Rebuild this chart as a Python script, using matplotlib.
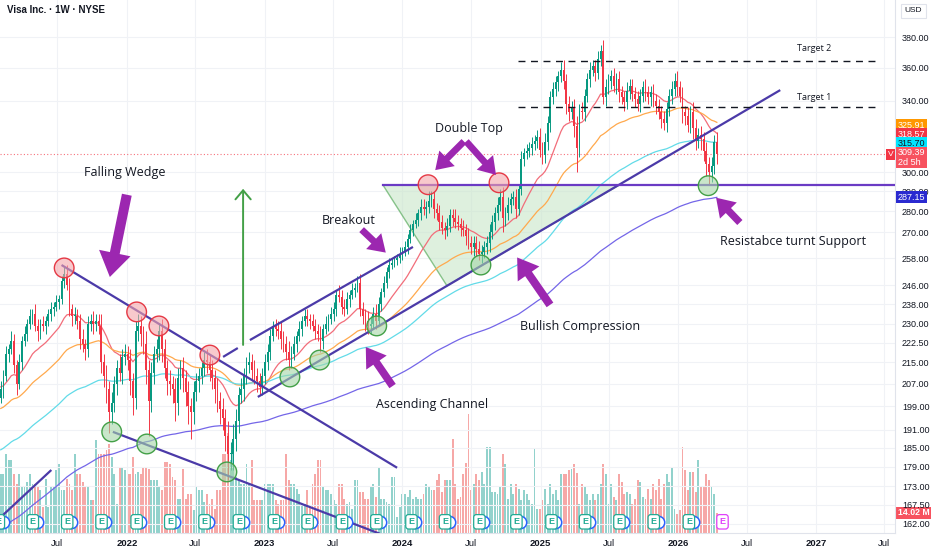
import numpy as np
import pandas as pd
import matplotlib
matplotlib.use("Agg")
import matplotlib.pyplot as plt
import matplotlib.dates as mdates
from matplotlib.patches import Polygon
from matplotlib.transforms import blended_transform_factory
from matplotlib.ticker import NullLocator

plt.rcParams['font.family'] = ['Liberation Sans', 'DejaVu Sans']
NOTE_FONT = ['Open Sans', 'DejaVu Sans']

# ---- weekly candles (Visa, 1W) ----
first_week = '2021-02-01'
first_open = 202.0
closes = [
    205, 210, 218, 220, 223, 214, 207, 215, 223, 226,
    230, 233, 234, 229, 227, 230, 229, 231, 234, 236,
    237, 239, 240, 248, 251, 246, 236, 233, 233, 231,
    224, 222, 220, 230, 231, 230, 231, 229, 215, 210,
    205, 197, 200, 207, 213, 211, 217, 218, 216, 208,
    202, 227, 229, 226, 222, 212, 201, 211, 218, 220,
    227, 220, 213, 208, 207, 205, 200, 209, 213, 209,
    204, 199, 197, 204, 208, 210, 213, 216, 215, 212,
    209, 205, 201, 198, 195, 189, 183, 183, 188, 194,
    203, 205, 210, 214, 215, 212, 210, 208, 206, 210,
    215, 219, 225, 229, 228, 227, 224, 222, 219, 216,
    218, 222, 225, 228, 231, 233, 232, 231, 229, 227,
    226, 223, 228, 230, 232, 234, 236, 242, 241, 237,
    236, 240, 242, 244, 245, 247, 236, 233, 231, 229,
    230, 234, 231, 238, 243, 247, 252, 255, 256, 257,
    258, 260, 261, 263, 267, 271, 274, 276, 279, 282,
    281, 282, 285, 286, 281, 279, 275, 272, 271, 273,
    278, 277, 275, 274, 272, 271, 268, 265, 263, 265,
    262, 260, 261, 263, 265, 270, 275, 279, 283, 287,
    277, 279, 283, 286, 287, 281, 291, 307, 310, 311,
    313, 315, 317, 319, 312, 309, 316, 327, 342, 347,
    351, 355, 359, 352, 338, 333, 336, 325, 313, 334,
    333, 343, 353, 359, 361, 357, 366, 371, 342, 348,
    352, 355, 349, 353, 345, 342, 339, 346, 349, 344,
    341, 338, 343, 348, 345, 342, 345, 340, 337, 333,
    329, 327, 335, 343, 347, 352, 348, 343, 333, 331,
    326, 333, 324, 317, 320, 318, 311, 304, 300, 303,
    316, 309.39,
]
wick_hi = [
    3, 2, 3, 2, 4, 3, 2, 3, 2, 3,  2, 3, 2, 4, 3, 2, 3, 2, 2, 3,
    2, 3, 2, 2, 3, 4, 3, 2, 4, 3,  3, 4, 2, 3, 3, 4, 3, 3, 5, 3,
    4, 3, 4, 3, 3, 5, 3, 4, 3, 4,  3, 4, 5, 4, 3, 5, 4, 4, 3, 4,
    3, 5, 4, 3, 4, 3, 4, 4, 3, 4,  3, 4, 3, 4, 3, 3, 2, 3, 4, 3,
    4, 3, 4, 3, 4, 3, 5, 4, 5, 4,  3, 4, 3, 3, 4, 3, 4, 3, 3, 3,
    3, 3, 3, 2, 3, 3, 4, 3, 3, 4,  3, 3, 2, 3, 2, 3, 3, 2, 3, 3,
    3, 3, 2, 3, 2, 3, 3, 2, 4, 3,  3, 3, 2, 3, 2, 3, 4, 3, 3, 4,
    3, 3, 4, 3, 2, 3, 2, 3, 2, 2,  2, 3, 2, 3, 2, 3, 2, 3, 2, 4,
    4, 3, 5, 4, 4, 3, 4, 3, 3, 4,  3, 3, 4, 3, 3, 4, 3, 4, 3, 3,
    3, 4, 3, 3, 3, 4, 3, 3, 4, 4,  5, 3, 4, 3, 3, 4, 3, 4, 3, 4,
    3, 4, 3, 4, 5, 4, 5, 4, 4, 4,  4, 3, 5, 6, 4, 5, 4, 5, 6, 4,
    5, 4, 4, 5, 4, 4, 5, 4, 7, 5,  4, 4, 5, 4, 5, 4, 4, 5, 4, 4,
    4, 5, 4, 4, 5, 4, 4, 5, 4, 4,  4, 5, 4, 4, 5, 5, 6, 4, 5, 4,
    5, 4, 6, 5, 4, 5, 4, 5, 4, 5,  4, 6,
]
wick_lo = [
    2, 3, 2, 3, 2, 3, 4, 2, 3, 2,  3, 2, 3, 2, 4, 3, 2, 3, 2, 3,
    3, 2, 3, 2, 3, 2, 3, 4, 3, 3,  4, 3, 4, 3, 3, 4, 3, 3, 4, 4,
    5, 7, 4, 3, 4, 3, 4, 3, 4, 5,  6, 4, 4, 5, 4, 5, 12, 4, 4, 3,
    4, 5, 4, 5, 4, 5, 6, 4, 4, 5,  5, 6, 9, 4, 3, 4, 3, 3, 4, 4,
    4, 5, 4, 5, 4, 5, 8, 5, 5, 4,  4, 3, 4, 3, 3, 4, 3, 4, 3, 3,
    3, 3, 3, 2, 3, 3, 4, 3, 3, 4,  3, 2, 3, 2, 3, 2, 3, 3, 2, 3,
    3, 4, 3, 2, 3, 2, 3, 3, 2, 3,  3, 2, 3, 2, 3, 2, 3, 3, 4, 3,
    3, 2, 3, 2, 3, 2, 2, 3, 2, 2,  2, 2, 3, 2, 3, 2, 3, 2, 3, 3,
    3, 4, 3, 3, 4, 3, 4, 3, 4, 3,  3, 4, 3, 3, 4, 3, 4, 3, 3, 4,
    3, 3, 4, 3, 3, 4, 3, 4, 3, 3,  7, 4, 3, 4, 3, 4, 3, 3, 4, 3,
    3, 4, 3, 4, 4, 5, 4, 4, 5, 4,  4, 5, 4, 5, 6, 5, 4, 6, 13, 5,
    4, 5, 4, 5, 4, 5, 4, 5, 4, 5,  4, 5, 4, 5, 6, 4, 5, 4, 5, 4,
    5, 4, 5, 4, 5, 4, 5, 4, 5, 4,  5, 4, 5, 4, 5, 4, 5, 4, 6, 5,
    4, 5, 6, 5, 4, 6, 5, 6, 7, 5,  4, 5,
]
# weekly volume, millions
volume = [
    41, 41, 55, 51, 51, 41, 34, 41, 32, 32,  36, 41, 34, 34, 32, 30, 18, 38, 18, 32,
    32, 44, 48, 30, 30, 38, 34, 30, 55, 41,  41, 36, 32, 32, 23, 23, 65, 55, 55, 55,
    58, 62, 53, 41, 20, 46, 46, 44, 41, 41,  53, 41, 43, 41, 46, 46, 45, 37, 37, 37,
    32, 30, 50, 50, 48, 39, 37, 24, 24, 45,  24, 27, 27, 16, 32, 30, 30, 22, 27, 20,
    24, 17, 30, 30, 55, 55, 70, 51, 62, 39,  37, 34, 34, 48, 34, 51, 23, 23, 23, 23,
    34, 34, 34, 34, 23, 20, 23, 23, 55, 37,  34, 34, 31, 27, 20, 20, 30, 18, 34, 41,
    51, 51, 32, 30, 30, 27, 23, 20, 34, 34,  24, 20, 22, 17, 37, 37, 29, 29, 24, 24,
    32, 34, 25, 46, 24, 24, 22, 20, 39, 39,  11, 18, 27, 27, 25, 30, 24, 25, 24, 24,
    27, 34, 32, 30, 30, 37, 41, 29, 37, 37,  37, 66, 34, 24, 25, 41, 49, 83, 30, 34,
    41, 37, 43, 34, 60, 60, 29, 29, 27, 32,  55, 48, 24, 34, 27, 34, 31, 23, 30, 27,
    23, 20, 59, 17, 17, 23, 31, 20, 34, 27,  30, 23, 41, 41, 41, 44, 45, 48, 42, 20,
    34, 32, 27, 23, 27, 23, 27, 34, 48, 41,  20, 34, 25, 23, 41, 36, 27, 29, 27, 20,
    24, 37, 36, 25, 24, 31, 24, 34, 30, 38,  24, 34, 41, 36, 46, 17, 13, 16, 60, 44,
    30, 43, 43, 29, 51, 32, 32, 41, 37, 32,  27, 14.02,
]

# moving averages (EMA) and their starting values at the left edge
ema_spans = [20, 50, 100, 200]
ema_seeds = [206, 198, 184, 160]
ema_colors = ['#f26d7a', '#ffa94d', '#62dbe8', '#7466e8']

# right scale
price_ticks = [162, 167.5, 173, 179, 185, 191, 199, 207, 215, 222.5, 230, 238,
               246, 258, 270, 280, 290, 300, 340, 360, 380]
last_price = 309.39
right_labels = ['325.91', '318.57', '315.70', '309.39\n2d 5h', '287.15']
right_label_at = [325.6, 320.6, 315.3, 307.7, 287.15]
right_label_bg = ['#ff9800', '#f23645', '#00e5ff', '#f7525f', '#2a2ad0']
right_label_fg = ['white', 'white', '#131722', 'white', 'white']
last_volume = 14.02

# ---- drawings ----
wedge_upper = (['2021-07-12', '2023-12-18'], [254.9, 178.7])
wedge_lower = (['2021-11-25', '2023-11-02'], [190.3, 159.2])
old_line = (['2021-01-30', '2021-06-15'], [163.7, 178.0])
channel_upper_a = (['2022-09-13', '2022-10-22'], [217.0, 220.4])
channel_upper_b = (['2022-11-23', '2024-01-29'], [223.5, 263.1])
support_line = (['2022-12-14', '2026-09-28'], [202.3, 346.3])
resistance_price = 293.4
resistance_span = ['2023-11-10', '2027-07-29']
triangle = (['2023-11-10', '2024-04-28', '2025-07-30'], [293.4, 245.8, 293.4])
target_prices = [364.4, 336.3]
target_names = ['Target 2', 'Target 1']
target_span = ['2024-11-02', '2027-06-12']
target_label_at = ('2026-11-12', [372.2, 341.6])

red_circle_dates = ['2021-07-19', '2022-01-27', '2022-03-27', '2022-08-09',
                    '2024-03-09', '2024-09-13']
red_circle_prices = [253.6, 234.8, 229.1, 217.7, 293.4, 294.4]
green_circle_dates = ['2021-11-22', '2022-02-23', '2022-09-23', '2023-03-09',
                      '2023-05-27', '2023-10-25', '2024-07-27', '2026-03-21']
green_circle_prices = [190.3, 186.3, 177.4, 209.5, 215.8, 229.1, 254.9, 292.9]

# fat arrows: (tail date, tail price, tip date, tip price, size)
arrows = [
    ('2022-01-01', 288.3, '2021-11-17', 249.6, 11),
    ('2023-09-15', 271.2, '2023-11-18', 260.5, 7.5),
    ('2024-06-12', 316.5, '2024-03-28', 301.0, 7.5),
    ('2024-06-18', 316.5, '2024-09-05', 298.5, 7.5),
    ('2023-12-06', 206.2, '2023-09-26', 220.8, 8.5),
    ('2025-01-26', 237.7, '2024-10-31', 258.3, 9),
    ('2026-06-13', 274.6, '2026-04-11', 286.8, 8),
]
labels = [
    ('Falling Wedge', '2021-12-26', 299.6),
    ('Breakout', '2023-08-11', 275.5),
    ('Double Top', '2024-06-25', 323.7),
    ('Ascending Channel', '2024-03-19', 199.8),
    ('Bullish Compression', '2025-04-15', 228.7),
    ('Resistabce turnt Support', '2026-11-01', 265.4),
]
green_arrow = ('2022-11-05', 221.6, 291.3)

earnings = ['2021-01-27', '2021-04-27', '2021-07-27', '2021-10-26', '2022-01-27',
            '2022-04-26', '2022-07-26', '2022-10-25', '2023-01-26', '2023-04-25',
            '2023-07-25', '2023-10-24', '2024-01-25', '2024-04-23', '2024-07-23',
            '2024-10-29', '2025-01-30', '2025-04-29', '2025-07-29', '2025-10-28',
            '2026-01-29']
next_earnings = '2026-04-28'

x_ticks = ['2021-07-01', '2022-01-01', '2022-07-01', '2023-01-01', '2023-07-01',
           '2024-01-01', '2024-07-01', '2025-01-01', '2025-07-01', '2026-01-01',
           '2026-07-01', '2027-01-01', '2027-07-01']
x_tick_labels = ['Jul', '2022', 'Jul', '2023', 'Jul', '2024', 'Jul', '2025', 'Jul',
                 '2026', 'Jul', '2027', 'Jul']


def d(s):
    return mdates.date2num(pd.Timestamp(s))


UP, DOWN = '#089981', '#f23645'
LINE = '#4b3aa8'

dates = pd.date_range(first_week, periods=len(closes), freq='7D')
xs = mdates.date2num(dates)
c = np.array(closes, dtype=float)
o = np.array([first_open] + closes[:-1], dtype=float)
hi = np.maximum(o, c) + np.array(wick_hi)
lo = np.minimum(o, c) - np.array(wick_lo)
up = c >= o
cols = np.where(up, UP, DOWN)

fig = plt.figure(figsize=(9.32, 5.5), dpi=100, facecolor='white')
ax = fig.add_axes([0, 17 / 550, 895 / 932, 533 / 550])
ax.set_yscale('log')
ax2 = ax.twinx()

# volume
vcols = np.where(up, '#26a69a', '#ef5350')
ax2.bar(xs, volume, width=5, color=vcols, alpha=0.5, lw=0)
ax2.set_ylim(0, 373)
ax2.set_yticks([])
ax2.yaxis.set_minor_locator(NullLocator())
for s in ax2.spines.values():
    s.set_visible(False)
ax2.text(1.003, last_volume, '14.02 M', transform=blended_transform_factory(ax2.transAxes, ax2.transData),
         ha='left', va='center', fontsize=6.3, color='white', fontweight='bold', clip_on=False,
         bbox=dict(boxstyle='square,pad=0.2', fc='#f7525f', ec='none'))

ax.set_zorder(ax2.get_zorder() + 1)
ax.patch.set_visible(False)

# candles
ax.vlines(xs, lo, hi, colors=cols, lw=0.7, zorder=3)
ax.bar(xs, np.maximum(np.abs(c - o), 0.4), bottom=np.minimum(o, c), width=4.7,
       color=cols, lw=0, zorder=3)

# moving averages
for span, seed, col in zip(ema_spans, ema_seeds, ema_colors):
    ema = pd.Series([seed] + list(c)).ewm(span=span, adjust=False).mean().iloc[1:]
    ax.plot(xs, ema.values, color=col, lw=0.9, zorder=2)

ax.axhline(last_price, color=DOWN, lw=0.8, ls=(0, (1, 2)), alpha=0.7, zorder=2)

# pattern drawings
tri = Polygon(list(zip([d(t) for t in triangle[0]], triangle[1])), closed=True,
              fc='#c8e6c9', ec='#43a047', lw=1, alpha=0.6, zorder=1)
ax.add_patch(tri)
for seg in [wedge_upper, wedge_lower, old_line, channel_upper_a, channel_upper_b, support_line]:
    ax.plot([d(t) for t in seg[0]], seg[1], color=LINE, lw=1.6, zorder=4,
            solid_capstyle='butt')
ax.plot([d(t) for t in resistance_span], [resistance_price] * 2,
        color='#6a3bc4', lw=1.6, zorder=4)

for p, name, lp in zip(target_prices, target_names, target_label_at[1]):
    ax.plot([d(target_span[0]), d(target_span[1])], [p, p], color='#131722', lw=1,
            ls=(0, (5, 4)), zorder=4)
    ax.text(d(target_label_at[0]), lp, name, fontsize=6.5, color='#131722',
            family=NOTE_FONT, ha='left', va='center', zorder=7)

for cd, cp, fc, ec in [(red_circle_dates, red_circle_prices, '#f4a6ab', '#e53945'),
                       (green_circle_dates, green_circle_prices, '#a5d6a7', '#43a047')]:
    cx = [d(t) for t in cd]
    ax.scatter(cx, cp, s=200, fc=fc, ec='none', alpha=0.6, zorder=5)
    ax.scatter(cx, cp, s=200, fc='none', ec=ec, lw=1, zorder=5)

for t0, p0, t1, p1, m in arrows:
    ax.annotate('', xy=(d(t1), p1), xytext=(d(t0), p0),
                arrowprops=dict(arrowstyle='simple,head_length=1.6,head_width=2.1,tail_width=0.65',
                                fc='#9c27b0', ec='#9c27b0', lw=0, mutation_scale=m,
                                shrinkA=0, shrinkB=0), zorder=6)
for txt, t, p in labels:
    ax.text(d(t), p, txt, fontsize=9, color='#131722', family=NOTE_FONT,
            ha='center', va='center', zorder=7)

ga = d(green_arrow[0])
ax.annotate('', xy=(ga, green_arrow[2]), xytext=(ga, green_arrow[1]),
            arrowprops=dict(arrowstyle='->,head_length=0.65,head_width=0.55', color='#43a047',
                            lw=1.4, shrinkA=0, shrinkB=0), zorder=6)

# earnings markers
xt = ax.get_xaxis_transform()
for e in earnings:
    ax.scatter([d(e) + 10], [0.021], transform=xt, s=80, fc='white', ec='#2962ff',
               lw=1.1, zorder=6)
    ax.text(d(e), 0.021, 'E', transform=xt, ha='center', va='center', fontsize=6.5,
            color='#22ab94', fontweight='bold', zorder=7,
            bbox=dict(boxstyle='round,pad=0.3', fc='white', ec='#22ab94', lw=0.9))
ax.text(d(next_earnings), 0.021, 'E', transform=xt, ha='center', va='center', fontsize=6.5,
        color='#e040fb', fontweight='bold', zorder=7,
        bbox=dict(boxstyle='round,pad=0.3', fc='white', ec='#e040fb', lw=0.9))

# axes
ax.set_xlim(d('2021-01-30'), d('2027-07-29'))
ax.set_ylim(159.4, 405.5)
ax.yaxis.tick_right()
ax.set_yticks(price_ticks)
ax.set_yticklabels([f'{p:.2f}' for p in price_ticks])
ax.yaxis.set_minor_locator(NullLocator())
ax.set_xticks([d(t) for t in x_ticks])
ax.set_xticklabels(x_tick_labels)
ax.xaxis.set_minor_locator(NullLocator())
for lab in ax.get_xticklabels():
    if lab.get_text() != 'Jul':
        lab.set_fontweight('bold')
ax.tick_params(axis='y', length=0, pad=5, labelsize=6.5, colors='#131722')
ax.tick_params(axis='x', length=0, pad=4, labelsize=6.8, colors='#131722')
ax.grid(True, color='#f0f2f6', lw=0.8, zorder=0)
ax.set_axisbelow(True)
for side in ['top', 'left']:
    ax.spines[side].set_visible(False)
for side in ['right', 'bottom']:
    ax.spines[side].set_color('#e0e3eb')
    ax.spines[side].set_linewidth(0.8)

# right scale value tags
yt = blended_transform_factory(ax.transAxes, ax.transData)
for txt, p, bg, fg in zip(right_labels, right_label_at, right_label_bg, right_label_fg):
    ax.text(1.003, p, txt, transform=yt, ha='left', va='center', fontsize=6.5, color=fg,
            linespacing=1.05, clip_on=False, zorder=9,
            bbox=dict(boxstyle='square,pad=0.18', fc=bg, ec='none'))
ax.text(0.9985, last_price, 'V', transform=yt, ha='right', va='center', fontsize=6,
        color='white', clip_on=False, zorder=9,
        bbox=dict(boxstyle='square,pad=0.2', fc='#f23645', ec='none'))

fig.text(7 / 932, 1 - 10 / 550, 'Visa Inc. · 1W · NYSE', fontsize=7, fontweight='bold',
         color='#131722', ha='left', va='center')
fig.text(913 / 932, 1 - 11 / 550, 'USD', fontsize=6, color='#131722', ha='center', va='center',
         bbox=dict(boxstyle='square,pad=0.45', fc='white', ec='#e0e3eb', lw=0.8))

fig.savefig('out.png', dpi=100, facecolor='white')
